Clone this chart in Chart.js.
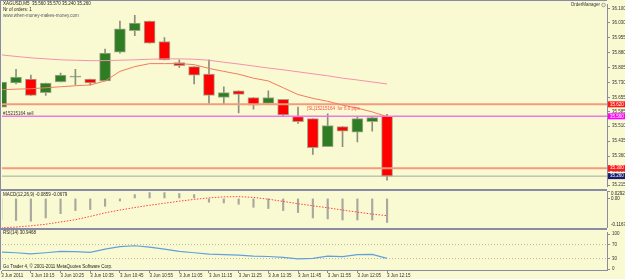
<!DOCTYPE html>
<html>
<head>
<meta charset="utf-8">
<script src="https://cdn.jsdelivr.net/npm/chart.js@4.4.0/dist/chart.umd.min.js"></script>
<style>
  html, body { margin: 0; padding: 0; background: #fafad2; }
  #wrap { position: relative; width: 625px; height: 279px; overflow: hidden; background: #fafad2; }
  canvas { position: absolute; left: 0; }
</style>
</head>
<body>
<div id="wrap">
  <canvas id="main" width="625" height="191" style="top:0"></canvas>
  <canvas id="macd" width="625" height="37" style="top:191px"></canvas>
  <canvas id="rsi" width="625" height="51" style="top:228px"></canvas>
</div>
<script>
// XAGUSD M5, 3 Jun 2011, bars 10:05 .. 12:15
const opens  = [35.606, 35.727, 35.746, 35.679, 35.732, 35.756, 35.746, 35.737, 35.882, 35.989, 36.037, 35.935, 35.829, 35.809,
                35.771, 35.654, 35.688, 35.654, 35.625, 35.645, 35.558, 35.548, 35.408, 35.509, 35.480, 35.533, 35.560]
const highs  = [35.740, 35.795, 35.766, 35.727, 35.776, 35.795, 35.746, 35.897, 36.037, 36.066, 36.037, 35.955, 35.843, 35.809,
                35.843, 35.708, 35.688, 35.654, 35.688, 35.645, 35.606, 35.548, 35.572, 35.509, 35.558, 35.558, 35.570]
const lows   = [35.600, 35.722, 35.664, 35.664, 35.732, 35.717, 35.717, 35.737, 35.877, 35.964, 35.926, 35.843, 35.805, 35.722,
                35.625, 35.621, 35.577, 35.596, 35.625, 35.558, 35.524, 35.369, 35.408, 35.408, 35.432, 35.485, 35.240]
const closes = [35.732, 35.756, 35.664, 35.727, 35.766, 35.756, 35.727, 35.877, 35.998, 36.027, 35.926, 35.843, 35.814, 35.766,
                35.664, 35.679, 35.669, 35.616, 35.654, 35.567, 35.533, 35.403, 35.514, 35.485, 35.548, 35.553, 35.260]

const maFast = [35.693, 35.696, 35.698, 35.703, 35.708, 35.713, 35.717, 35.737, 35.785, 35.809, 35.824, 35.824, 35.824, 35.819,
                35.800, 35.785, 35.771, 35.751, 35.737, 35.703, 35.669, 35.650, 35.635, 35.616, 35.601, 35.582, 35.558]
const maSlow = [35.868, 35.860, 35.853, 35.848, 35.843, 35.841, 35.839, 35.839, 35.841, 35.843, 35.846, 35.848, 35.848, 35.846,
                35.841, 35.831, 35.822, 35.812, 35.802, 35.793, 35.783, 35.773, 35.763, 35.751, 35.742, 35.732, 35.722]

const macdHist = [-0.085, -0.087, -0.090, -0.077, -0.060, -0.048, -0.044, -0.031, -0.010, 0.015, 0.023, 0.023, 0.019, 0.015,
                  -0.015, -0.018, -0.023, -0.035, -0.040, -0.048, -0.056, -0.077, -0.081, -0.085, -0.085, -0.085, -0.095]
const macdSignal = [-0.116, -0.113, -0.108, -0.102, -0.093, -0.084, -0.071, -0.057, -0.046, -0.036, -0.027, -0.019, -0.011, -0.004,
                    0.002, 0.006, 0.007, 0.004, -0.003, -0.012, -0.021, -0.029, -0.037, -0.046, -0.054, -0.062, -0.068]

const rsi = [48.8, 46.7, 43.5, 46.7, 50.7, 49.9, 48.0, 57.3, 64.0, 66.7, 62.7, 57.3, 50.7, 46.7,
             42.7, 41.3, 40.0, 37.3, 36.0, 33.3, 29.3, 30.7, 37.3, 35.5, 41.3, 41.9, 30.9]

const priceTicks = [36.100, 36.030, 35.955, 35.880, 35.805, 35.730, 35.655, 35.585, 35.510, 35.435, 35.360, 35.285, 35.215]
const macdTicks = [0.0292, 0, -0.1167]
const rsiTicks = [100, 70, 30, 0]
const timeTicks = [0, 2, 4, 6, 8, 10, 12, 14, 16, 18, 20, 22, 24, 26]
const timeLabels = ['3 Jun 2011', '3 Jun 10:15', '3 Jun 10:25', '3 Jun 10:35', '3 Jun 10:45', '3 Jun 10:55', '3 Jun 11:05',
                    '3 Jun 11:15', '3 Jun 11:25', '3 Jun 11:35', '3 Jun 11:45', '3 Jun 11:55', '3 Jun 12:05', '3 Jun 12:15']

const tpLevel = 35.300
const slLevel = 35.620
const sellLevel = 35.560
const bidLevel = 35.260

const xMin = 0.054, xMax = 40.82
const FONT = '"Liberation Sans", Arial, sans-serif'
const FRAME = '#8a8aa6'
const AXIS = '#8a8aa6'

Chart.defaults.font.family = FONT
Chart.defaults.font.size = 4.5
Chart.defaults.color = '#333'

const pts = arr => arr.map((v, i) => ({ x: i, y: v }))
const hline = v => [{ x: xMin, y: v }, { x: xMax, y: v }]

function yAxis(extra) {
  return Object.assign({
    position: 'right',
    afterFit: s => { s.width = 18 },
    grid: { drawOnChartArea: false, tickLength: 3, color: AXIS },
    border: { color: AXIS },
    ticks: { padding: 2, color: '#333' }
  }, extra)
}

const xAxisHidden = { type: 'linear', min: xMin, max: xMax, offset: false, display: false }

const baseOpts = {
  responsive: false,
  animation: false,
  devicePixelRatio: 1,
  plugins: { legend: { display: false }, tooltip: { enabled: false } }
}

// main price panel
const bodyColors = opens.map((o, i) => closes[i] > o ? '#2f7d22' : closes[i] < o ? '#ff0000' : '#8a8f7e')

new Chart(document.getElementById('main'), {
  type: 'bar',
  data: {
    datasets: [
      { type: 'line', data: pts(maFast), borderColor: '#f47a5e', borderWidth: 1, pointRadius: 0, order: 1 },
      { type: 'line', data: pts(maSlow), borderColor: '#f590ae', borderWidth: 1, pointRadius: 0, order: 1 },
      { type: 'line', data: hline(slLevel), borderColor: '#f59a7c', borderWidth: 2, pointRadius: 0, order: 2 },
      { type: 'line', data: hline(tpLevel), borderColor: '#f59a7c', borderWidth: 2, pointRadius: 0, order: 2 },
      { type: 'line', data: hline(sellLevel), borderColor: '#ee78e6', borderWidth: 1.5, pointRadius: 0, order: 2 },
      { type: 'line', data: hline(bidLevel), borderColor: '#a4a8a0', borderWidth: 1, pointRadius: 0, order: 2 },
      {
        data: opens.map((o, i) => ({ x: i, y: [o, closes[i]] })),
        backgroundColor: bodyColors, borderColor: '#a2a890', borderWidth: 1, borderSkipped: false,
        barThickness: 11, minBarLength: 1, grouped: false, order: 5
      },
      {
        data: lows.map((l, i) => ({ x: i, y: [l, highs[i]] })),
        backgroundColor: '#8a8f7e', barThickness: 1, grouped: false, order: 6
      }
    ]
  },
  options: Object.assign({}, baseOpts, {
    layout: { padding: { top: 1, bottom: 2, left: 2, right: 0 } },
    scales: {
      x: xAxisHidden,
      y: yAxis({
        min: 35.209, max: 36.1194,
        afterBuildTicks: s => { s.ticks = priceTicks.map(v => ({ value: v })) },
        ticks: { padding: 2, color: '#333', autoSkip: false, callback: v => v.toFixed(3) }
      })
    }
  }),
  plugins: [{
    id: 'mainDeco',
    afterDraw(chart) {
      const ctx = chart.ctx, y = chart.scales.y
      ctx.save()
      ctx.fillStyle = FRAME
      ctx.fillRect(0, 0, 607, 1)
      ctx.fillRect(0, 0, 1, 191)
      ctx.fillRect(0, 189, 607, 2)

      ctx.font = '4.5px ' + FONT
      ctx.textBaseline = 'middle'
      ctx.textAlign = 'left'
      ctx.fillStyle = '#222'
      ctx.fillText('XAGUSD,M5  35.560 35.570 35.240 35.260', 3, 4)
      ctx.fillText('Nr of orders: 1', 3, 10)
      ctx.fillStyle = '#556'
      ctx.fillText('www.when-money-makes-money.com', 3, 16)

      ctx.fillStyle = '#333'
      ctx.fillText('#15215164 sell', 3, y.getPixelForValue(sellLevel) - 3)
      ctx.fillStyle = '#ff4c4c'
      ctx.fillText('[SL]15215164  for 6.0 pips', 307, y.getPixelForValue(slLevel) + 4)

      ctx.fillStyle = '#333'
      ctx.textAlign = 'right'
      ctx.fillText('OrderManager', 600, 5)
      ctx.strokeStyle = '#888'
      ctx.lineWidth = 0.8
      ctx.beginPath(); ctx.arc(603.5, 5, 1.8, 0, Math.PI * 2); ctx.stroke()

      const tags = [
        { v: slLevel, bg: '#ff1a1a' },
        { v: sellLevel, bg: '#ff00ff' },
        { v: tpLevel, bg: '#ff1a1a' },
        { v: bidLevel, bg: '#1c1c6e' }
      ]
      ctx.textAlign = 'left'
      tags.forEach(t => {
        const py = y.getPixelForValue(t.v)
        ctx.fillStyle = t.bg
        ctx.fillRect(608, py - 3, 17, 6)
        ctx.fillStyle = '#fff'
        ctx.fillText(t.v.toFixed(3), 610, py)
      })
      ctx.restore()
    }
  }]
})

// MACD panel
new Chart(document.getElementById('macd'), {
  type: 'bar',
  data: {
    datasets: [
      { type: 'line', data: pts(macdSignal), borderColor: '#ff4040', borderWidth: 1, borderDash: [1.5, 1.5], pointRadius: 0, order: 0 },
      { data: pts(macdHist), backgroundColor: '#a8a8a0', barThickness: 1.5, order: 1 }
    ]
  },
  options: Object.assign({}, baseOpts, {
    layout: { padding: { top: 0, bottom: 0, left: 2, right: 0 } },
    scales: {
      x: xAxisHidden,
      y: yAxis({
        min: -0.1167, max: 0.0292,
        afterBuildTicks: s => { s.ticks = macdTicks.map(v => ({ value: v })) },
        ticks: { display: false }
      })
    }
  }),
  plugins: [{
    id: 'macdDeco',
    afterDraw(chart) {
      const ctx = chart.ctx, y = chart.scales.y
      ctx.save()
      ctx.fillStyle = FRAME
      ctx.fillRect(0, 0, 1, 37)
      ctx.font = '4.5px ' + FONT
      ctx.textBaseline = 'middle'
      ctx.fillStyle = '#222'
      ctx.fillText('MACD(12,26,9) -0.0859 -0.0679', 3, 4)
      ctx.fillText('0.0292', 611, y.getPixelForValue(0.0292) + 3)
      ctx.fillText('0.00', 611, y.getPixelForValue(0) + 0.5)
      ctx.fillText('-0.1167', 611, y.getPixelForValue(-0.1167) - 3)
      ctx.restore()
    }
  }]
})

// RSI panel with time axis
new Chart(document.getElementById('rsi'), {
  type: 'line',
  data: {
    datasets: [
      { data: pts(rsi), borderColor: '#62a0dc', borderWidth: 1.2, pointRadius: 0 },
      { data: hline(70), borderColor: '#b4b49c', borderWidth: 1, borderDash: [1, 2], pointRadius: 0 },
      { data: hline(30), borderColor: '#b4b49c', borderWidth: 1, borderDash: [1, 2], pointRadius: 0 }
    ]
  },
  options: Object.assign({}, baseOpts, {
    layout: { padding: { top: 2, bottom: 0, left: 2, right: 0 } },
    scales: {
      x: {
        type: 'linear', min: xMin, max: xMax, offset: false, position: 'bottom',
        afterFit: s => { s.height = 9 },
        afterBuildTicks: s => { s.ticks = timeTicks.map(v => ({ value: v })) },
        grid: { drawOnChartArea: false, tickLength: 3, color: AXIS },
        border: { color: AXIS },
        ticks: {
          align: 'start', padding: 0, maxRotation: 0, autoSkip: false, color: '#333',
          callback: v => timeLabels[timeTicks.indexOf(v)]
        }
      },
      y: yAxis({
        min: -2.5, max: 104,
        afterBuildTicks: s => { s.ticks = rsiTicks.map(v => ({ value: v })) },
        ticks: { padding: 2, color: '#333', autoSkip: false }
      })
    }
  }),
  plugins: [{
    id: 'rsiDeco',
    afterDraw(chart) {
      const ctx = chart.ctx
      ctx.save()
      ctx.fillStyle = FRAME
      ctx.fillRect(0, 0, 607, 2)
      ctx.fillRect(0, 0, 1, 42)
      ctx.font = '4.5px ' + FONT
      ctx.textBaseline = 'middle'
      ctx.fillStyle = '#222'
      ctx.fillText('RSI(14) 30.9468', 3, 5)
      ctx.fillText('Go Trader 4, \u00a9 2001-2011 MetaQuotes Software Corp.', 3, 39)
      ctx.restore()
    }
  }]
})
</script>
</body>
</html>
